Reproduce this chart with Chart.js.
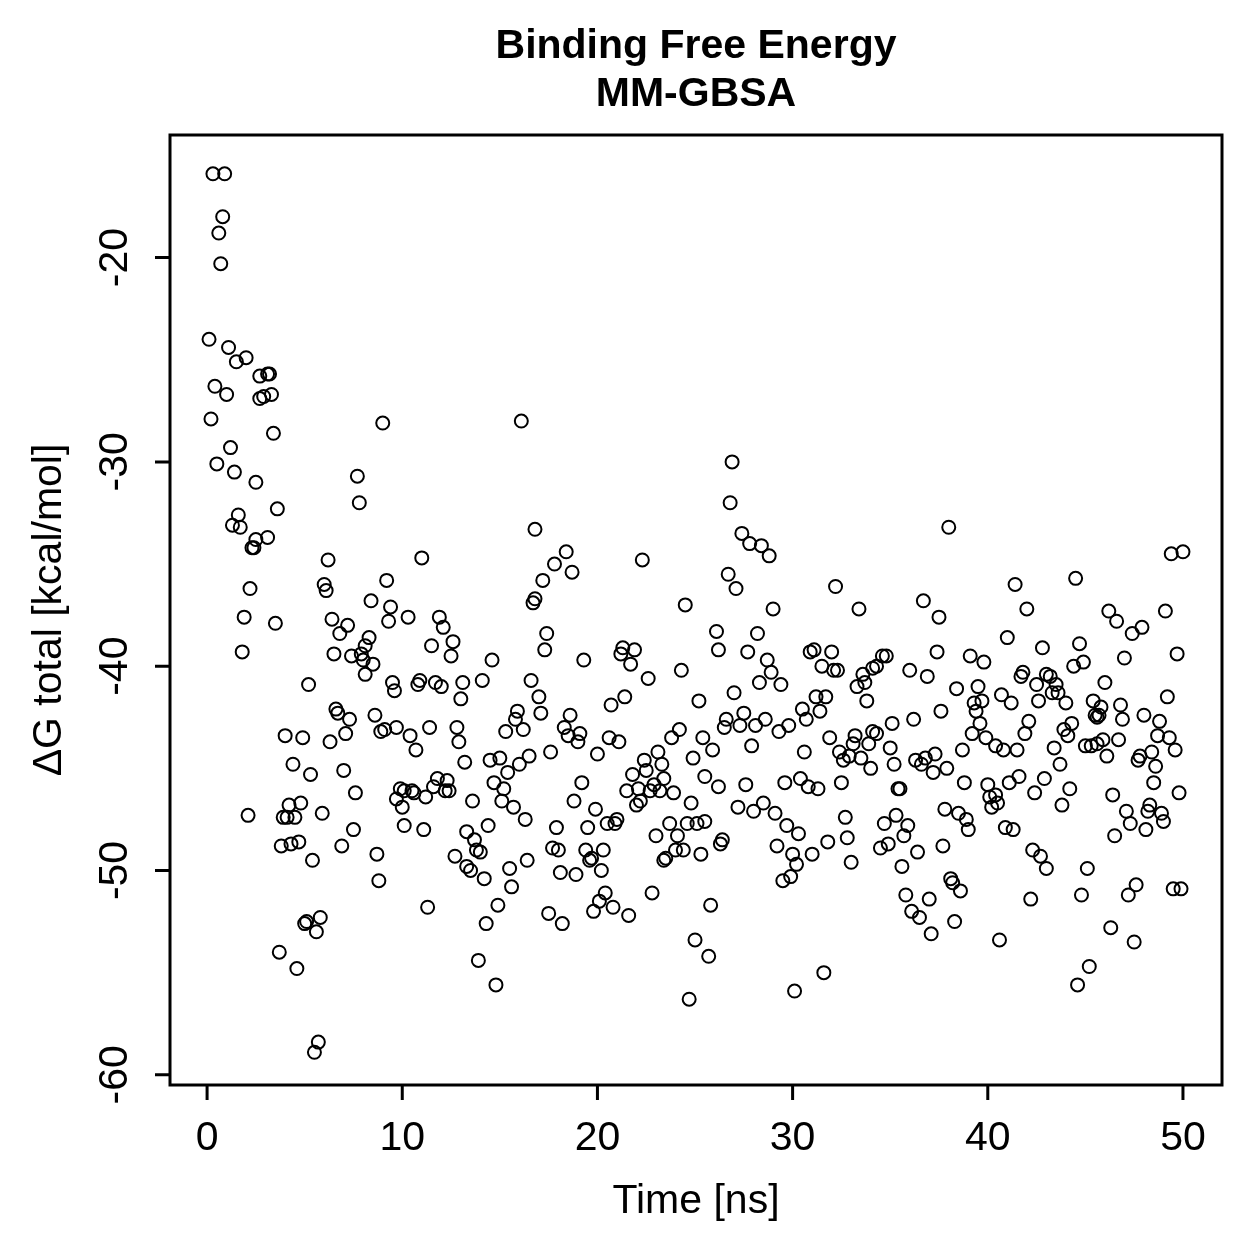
<!DOCTYPE html>
<html>
<head>
<meta charset="utf-8">
<script src="https://cdn.jsdelivr.net/npm/chart.js@4.4.1/dist/chart.umd.min.js"></script>
<style>
  html, body { margin: 0; padding: 0; background: #fff; }
  #wrap { width: 1259px; height: 1259px; }
</style>
</head>
<body>
<div id="wrap"><canvas id="chart" width="1259" height="1259"></canvas></div>
<script>
"use strict";

// #region Data
const titleLines = ["Binding Free Energy", "MM-GBSA"];
const xLabel = "Time [ns]";
const yLabel = "ΔG total [kcal/mol]";
const xTicks = [0, 10, 20, 30, 40, 50];
const yTicks = [-20, -30, -40, -50, -60];
const xRange = [-1.9, 52.0];
const yRange = [-60.5, -14.0];

// [time (ns), dG total (kcal/mol)]
const dgSamples = [
    [0.3,-15.9],[0.9,-15.9],[0.8,-18.0],[0.6,-18.8],[0.7,-20.3],[0.1,-24.0],[1.1,-24.4],[2.0,-24.9],[1.5,-25.1],[2.7,-25.8],
    [3.1,-25.7],[3.2,-25.7],[0.4,-26.3],[1.0,-26.7],[2.7,-26.9],[2.9,-26.8],[3.3,-26.7],[0.2,-27.9],[3.4,-28.6],[1.2,-29.3],
    [0.5,-30.1],[1.4,-30.5],[2.5,-31.0],[7.7,-30.7],[7.8,-32.0],[3.6,-32.3],[1.6,-32.6],[1.3,-33.1],[1.7,-33.2],[3.1,-33.7],
    [2.5,-33.8],[2.3,-34.2],[2.4,-34.2],[6.2,-34.8],[2.2,-36.2],[6.0,-36.0],[6.1,-36.3],[8.4,-36.8],[1.9,-37.6],[3.5,-37.9],
    [6.4,-37.7],[7.2,-38.0],[6.8,-38.4],[1.8,-39.3],[6.5,-39.4],[7.4,-39.5],[8.3,-38.6],[8.1,-39.0],[7.9,-39.4],[8.0,-39.7],
    [8.5,-39.9],[8.1,-40.4],[5.2,-40.9],[6.6,-42.1],[6.7,-42.3],[7.3,-42.6],[4.0,-43.4],[4.9,-43.5],[6.3,-43.7],[7.1,-43.3],
    [4.4,-44.8],[5.3,-45.3],[7.0,-45.1],[7.6,-46.2],[4.2,-46.8],[4.8,-46.7],[2.1,-47.3],[3.9,-47.4],[4.1,-47.4],[4.5,-47.4],
    [5.9,-47.2],[7.5,-48.0],[3.8,-48.8],[4.3,-48.7],[4.7,-48.6],[6.9,-48.8],[5.4,-49.5],[5.8,-52.3],[5.1,-52.5],[5.0,-52.6],
    [5.6,-53.0],[3.7,-54.0],[4.6,-54.8],[5.7,-58.4],[5.5,-58.9],
    [9.0,-28.1],[16.1,-28.0],[16.8,-33.3],[11.0,-34.7],[9.2,-35.8],[9.4,-37.1],[9.3,-37.8],[10.3,-37.6],[11.9,-37.6],[12.1,-38.1],
    [16.7,-36.9],[16.8,-36.7],[11.5,-39.0],[12.6,-38.8],[12.5,-39.5],[14.6,-39.7],[9.5,-40.8],[9.6,-41.2],[10.9,-40.7],[10.8,-40.9],
    [11.7,-40.8],[12.0,-41.0],[13.1,-40.8],[13.0,-41.6],[14.1,-40.7],[16.6,-40.7],[8.6,-42.4],[8.9,-43.2],[9.1,-43.1],[9.7,-43.0],
    [10.4,-43.4],[10.7,-44.1],[11.4,-43.0],[12.8,-43.0],[12.9,-43.7],[13.2,-44.7],[14.5,-44.6],[15.0,-44.5],[15.3,-43.2],[15.9,-42.2],
    [15.8,-42.6],[16.2,-43.1],[15.4,-45.2],[16.0,-44.8],[16.5,-44.4],[14.7,-45.7],[15.2,-46.0],[15.1,-46.6],[15.7,-46.9],[16.3,-47.5],
    [9.9,-46.0],[10.1,-46.1],[10.5,-46.1],[10.6,-46.2],[9.7,-46.5],[10.0,-46.9],[11.2,-46.4],[11.6,-45.9],[11.8,-45.5],[12.3,-45.6],
    [12.2,-46.1],[12.4,-46.1],[13.6,-46.6],[10.1,-47.8],[11.1,-48.0],[8.7,-49.2],[8.8,-50.5],[12.7,-49.3],[13.3,-48.1],[13.7,-48.5],
    [13.8,-49.0],[14.0,-49.1],[14.4,-47.8],[13.3,-49.8],[13.5,-50.0],[14.2,-50.4],[15.5,-49.9],[15.6,-50.8],[16.4,-49.5],[11.3,-51.8],
    [14.9,-51.7],[14.3,-52.6],[13.9,-54.4],[14.8,-55.6],
    [18.4,-34.4],[17.8,-35.0],[18.7,-35.4],[17.2,-35.8],[22.3,-34.8],[24.5,-37.0],[17.4,-38.4],[17.3,-39.2],[19.3,-39.7],[21.3,-39.1],
    [21.2,-39.4],[21.9,-39.2],[21.7,-39.9],[22.6,-40.6],[24.3,-40.2],[17.0,-41.5],[17.1,-42.3],[18.6,-42.4],[18.3,-43.0],[18.5,-43.4],
    [19.1,-43.3],[19.0,-43.7],[20.6,-43.5],[21.1,-43.7],[20.7,-41.9],[21.4,-41.5],[25.2,-41.7],[20.0,-44.3],[17.6,-44.2],[23.8,-43.5],
    [24.2,-43.1],[25.4,-43.5],[23.1,-44.2],[22.4,-44.6],[22.5,-45.1],[21.8,-45.3],[23.3,-44.8],[23.4,-45.5],[24.9,-44.5],[25.5,-45.4],
    [19.2,-45.7],[18.8,-46.6],[19.9,-47.0],[21.5,-46.1],[22.1,-46.0],[22.9,-45.8],[22.7,-46.1],[23.2,-46.1],[23.9,-46.2],[22.2,-46.6],
    [22.0,-46.8],[24.8,-46.7],[17.9,-47.9],[19.5,-47.9],[20.5,-47.7],[20.9,-47.7],[21.0,-47.5],[23.7,-47.7],[24.6,-47.7],[25.1,-47.7],
    [25.5,-47.6],[23.0,-48.3],[24.1,-48.3],[24.0,-49.0],[24.4,-49.0],[23.5,-49.4],[23.4,-49.5],[25.3,-49.2],[17.7,-48.9],[18.0,-49.0],
    [19.4,-49.0],[20.3,-49.0],[19.7,-49.4],[19.6,-49.5],[20.2,-50.0],[18.1,-50.1],[18.9,-50.2],[20.4,-51.1],[20.1,-51.5],[19.8,-52.0],
    [20.8,-51.8],[21.6,-52.2],[22.8,-51.1],[17.5,-52.1],[18.2,-52.6],[25.0,-53.4],[25.7,-54.2],[24.7,-56.3],[25.8,-51.7],
    [26.9,-30.0],[26.8,-32.0],[27.4,-33.5],[27.8,-34.0],[28.4,-34.1],[28.8,-34.6],[26.7,-35.5],[27.1,-36.2],[32.2,-36.1],[33.4,-37.2],
    [29.0,-37.2],[26.1,-38.3],[28.2,-38.4],[26.2,-39.2],[27.7,-39.3],[28.7,-39.7],[28.9,-40.3],[29.4,-40.9],[28.3,-40.8],[30.9,-39.3],
    [31.1,-39.2],[32.0,-39.3],[31.5,-40.0],[32.1,-40.2],[32.3,-40.2],[33.6,-40.4],[33.3,-41.0],[33.7,-40.8],[33.8,-41.7],[27.0,-41.3],
    [26.6,-42.6],[26.5,-43.0],[27.3,-42.9],[27.5,-42.3],[28.1,-42.9],[28.6,-42.6],[29.3,-43.2],[29.8,-42.9],[30.5,-42.1],[30.7,-42.6],
    [31.2,-41.5],[31.7,-41.5],[31.4,-42.2],[25.9,-44.1],[27.9,-43.9],[30.6,-44.2],[31.9,-43.5],[32.4,-44.2],[32.6,-44.6],[32.9,-44.4],
    [33.2,-43.4],[33.1,-43.8],[33.5,-44.5],[33.9,-43.8],[34.0,-45.0],[34.1,-43.2],[34.3,-43.3],[26.2,-45.9],[27.6,-45.8],[29.6,-45.7],
    [30.4,-45.5],[30.8,-45.9],[31.3,-46.0],[32.5,-45.7],[27.2,-46.9],[28.0,-47.1],[28.5,-46.7],[29.1,-47.2],[29.7,-47.8],[30.3,-48.2],
    [32.7,-47.4],[32.8,-48.4],[33.0,-49.6],[31.8,-48.6],[31.0,-49.2],[29.2,-48.8],[30.0,-49.2],[30.2,-49.7],[29.9,-50.3],[29.5,-50.5],
    [26.4,-48.5],[26.3,-48.7],[31.6,-55.0],[30.1,-55.9],
    [38.0,-33.2],[41.4,-36.0],[36.7,-36.8],[37.5,-37.6],[42.0,-37.2],[41.0,-38.6],[42.8,-39.1],[37.4,-39.3],[39.1,-39.5],[39.8,-39.8],
    [34.6,-39.5],[34.8,-39.5],[34.3,-40.0],[34.1,-40.1],[36.0,-40.2],[36.9,-40.5],[38.4,-41.1],[39.5,-41.0],[39.3,-41.8],[39.7,-41.7],
    [39.4,-42.2],[37.6,-42.2],[40.7,-41.4],[41.2,-41.8],[41.8,-40.3],[41.7,-40.5],[42.5,-40.9],[42.6,-41.7],[43.0,-40.4],[43.2,-40.5],
    [35.1,-42.8],[36.2,-42.6],[35.0,-44.0],[39.6,-42.8],[39.2,-43.3],[39.9,-43.5],[40.4,-43.9],[40.8,-44.1],[41.5,-44.1],[42.1,-42.7],
    [41.9,-43.3],[38.7,-44.1],[35.2,-44.8],[36.3,-44.6],[36.6,-44.8],[36.8,-44.5],[37.3,-44.3],[37.2,-45.2],[37.9,-45.0],[35.4,-46.0],
    [35.5,-46.0],[38.8,-45.7],[40.0,-45.8],[40.1,-46.4],[40.4,-46.3],[40.2,-46.9],[40.5,-46.7],[41.1,-45.7],[41.6,-45.4],[42.4,-46.2],
    [42.9,-45.5],[37.8,-47.0],[38.5,-47.2],[38.9,-47.5],[39.0,-48.0],[40.9,-47.9],[41.3,-48.0],[35.3,-47.3],[34.7,-47.7],[35.9,-47.8],
    [35.7,-48.3],[34.5,-48.9],[34.9,-48.7],[36.4,-49.1],[37.7,-48.8],[35.6,-49.8],[42.3,-49.0],[42.7,-49.3],[43.0,-49.9],[38.1,-50.4],
    [38.2,-50.6],[38.6,-51.0],[35.8,-51.2],[37.0,-51.4],[42.2,-51.4],[36.1,-52.0],[36.5,-52.3],[38.3,-52.5],[37.1,-53.1],[40.6,-53.4],
    [49.4,-34.5],[50.0,-34.4],[44.5,-35.7],[46.2,-37.3],[46.6,-37.8],[49.1,-37.3],[47.9,-38.1],[47.4,-38.4],[44.7,-38.9],[44.4,-40.0],
    [44.9,-39.8],[47.0,-39.6],[49.7,-39.4],[46.0,-40.8],[43.5,-40.9],[43.3,-41.3],[43.6,-41.3],[44.0,-41.8],[45.4,-41.7],[45.8,-42.0],
    [45.5,-42.4],[45.6,-42.5],[45.7,-42.4],[46.8,-41.9],[46.9,-42.6],[49.2,-41.5],[48.0,-42.4],[48.8,-42.7],[48.7,-43.4],[49.3,-43.5],
    [49.6,-44.1],[44.3,-42.8],[43.9,-43.1],[44.1,-43.4],[43.4,-44.0],[45.0,-43.9],[45.3,-43.9],[45.6,-43.8],[45.9,-43.6],[46.7,-43.6],
    [46.1,-44.4],[47.8,-44.4],[47.7,-44.6],[48.4,-44.2],[48.6,-44.9],[48.5,-45.7],[43.7,-44.8],[44.2,-46.0],[43.8,-46.8],[46.4,-46.3],
    [49.8,-46.2],[47.1,-47.1],[47.3,-47.7],[48.3,-46.8],[48.2,-47.1],[48.9,-47.2],[49.0,-47.6],[48.1,-48.0],[46.5,-48.3],[45.1,-49.9],
    [44.8,-51.2],[47.6,-50.7],[47.2,-51.2],[49.5,-50.9],[49.9,-50.9],[46.3,-52.8],[47.5,-53.5],[45.2,-54.7],[44.6,-55.6]
];
// #endregion

// #region R-style frame, axes and titles
const FONT = '"Liberation Sans", Arial, Helvetica, sans-serif';

const baseGraphics = {
    id: "baseGraphics",
    afterDraw(chart) {
        const { ctx, chartArea: a, scales } = chart;
        const sx = scales.x;
        const sy = scales.y;
        ctx.save();
        ctx.strokeStyle = "#000";
        ctx.fillStyle = "#000";
        ctx.lineWidth = 3;
        ctx.strokeRect(a.left, a.top, a.right - a.left, a.bottom - a.top);

        // tick marks
        ctx.beginPath();
        xTicks.forEach((v) => {
            const px = sx.getPixelForValue(v);
            ctx.moveTo(px, a.bottom);
            ctx.lineTo(px, a.bottom + 15);
        });
        yTicks.forEach((v) => {
            const py = sy.getPixelForValue(v);
            ctx.moveTo(a.left, py);
            ctx.lineTo(a.left - 15, py);
        });
        ctx.stroke();

        // tick labels
        ctx.font = `41px ${FONT}`;
        ctx.textAlign = "center";
        ctx.textBaseline = "middle";
        xTicks.forEach((v) => ctx.fillText(String(v), sx.getPixelForValue(v), a.bottom + 54));
        yTicks.forEach((v) => {
            ctx.save();
            ctx.translate(a.left - 54, sy.getPixelForValue(v));
            ctx.rotate(-Math.PI / 2);
            ctx.fillText(String(v), 0, 0);
            ctx.restore();
        });

        // axis titles
        const cx = (a.left + a.right) / 2;
        const cy = (a.top + a.bottom) / 2;
        ctx.fillText(xLabel, cx, a.bottom + 117);
        ctx.save();
        ctx.translate(a.left - 120, cy);
        ctx.rotate(-Math.PI / 2);
        ctx.fillText(yLabel, 0, 0);
        ctx.restore();

        // main title
        ctx.font = `bold 41px ${FONT}`;
        ctx.fillText(titleLines[0], cx, a.top - 88);
        ctx.fillText(titleLines[1], cx, a.top - 40);
        ctx.restore();
    },
};
// #endregion

// #region Chart
const config = {
    type: "scatter",
    data: {
        datasets: [
            {
                label: "dG",
                data: dgSamples.map(([t, g]) => ({ x: t, y: g })),
                pointStyle: "circle",
                pointRadius: 6.5,
                pointBorderWidth: 2,
                borderColor: "#000",
                backgroundColor: "rgba(0,0,0,0)",
                clip: false,
            },
        ],
    },
    options: {
        responsive: false,
        animation: false,
        devicePixelRatio: 1,
        layout: { padding: { left: 170, top: 135, right: 37, bottom: 174 } },
        scales: {
            x: { type: "linear", display: false, min: xRange[0], max: xRange[1] },
            y: { type: "linear", display: false, min: yRange[0], max: yRange[1] },
        },
        plugins: {
            legend: { display: false },
            tooltip: { enabled: false },
            title: { display: false },
        },
    },
    plugins: [baseGraphics],
};

const myChart = new Chart(document.getElementById("chart"), config);
// #endregion
</script>
</body>
</html>
